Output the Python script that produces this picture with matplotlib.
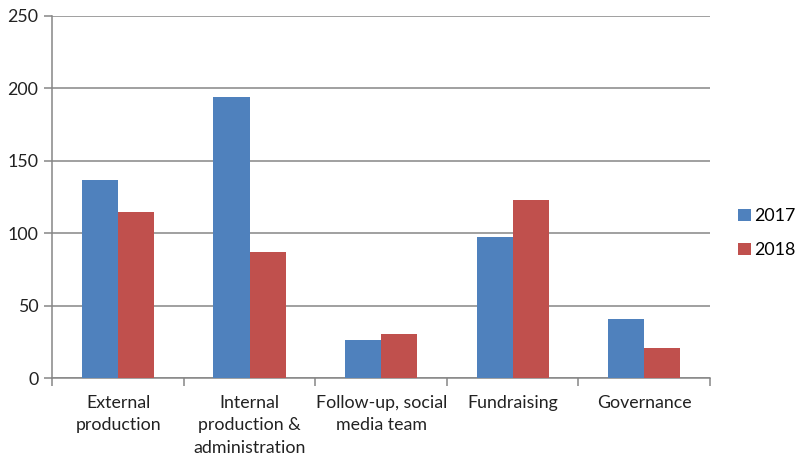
import numpy as np
import matplotlib
matplotlib.use("Agg")
import matplotlib.pyplot as plt

plt.rcParams['font.family'] = ['Lato', 'DejaVu Sans']

# Data
categories = ['External\nproduction', 'Internal\nproduction &\nadministration',
              'Follow-up, social\nmedia team', 'Fundraising', 'Governance']
values_2017 = [137, 194, 26.5, 97.5, 40.7]
values_2018 = [115, 87, 30.7, 123, 21]
series_labels = ['2017', '2018']
yticks = [0, 50, 100, 150, 200, 250]

blue = '#4F81BD'
red = '#C0504D'
grey = '#868686'

fig = plt.figure(figsize=(7.96, 4.59), dpi=100)
ax = fig.add_axes([0.0657, 0.1758, 0.8263, 0.79])

x = np.arange(len(categories))
w = 0.275
ax.bar(x - w / 2, values_2017, width=w, color=blue, label=series_labels[0], zorder=3)
ax.bar(x + w / 2, values_2018, width=w, color=red, label=series_labels[1], zorder=3)

ax.set_xlim(-0.5, len(categories) - 0.5)
ax.set_ylim(0, 250)
ax.set_yticks(yticks)
ax.yaxis.grid(True, color=grey, linewidth=1.1, zorder=0)

# category labels at centres, tick marks at boundaries
ax.set_xticks(x)
ax.set_xticklabels(categories, fontsize=12.8, color='#222222', linespacing=1.5)
ax.set_xticks(np.arange(-0.5, len(categories)), minor=True)
ax.tick_params(axis='x', which='major', length=0, pad=12)
ax.tick_params(axis='x', which='minor', length=6, color=grey, width=1.1, direction='out')
ax.tick_params(axis='y', length=6, color=grey, width=1.1, labelsize=12.8, labelcolor='#222222', pad=4)

for side in ['top', 'right']:
    ax.spines[side].set_visible(False)
for side in ['left', 'bottom']:
    ax.spines[side].set_color(grey)
    ax.spines[side].set_linewidth(1.1)

ax.legend(loc='center left', bbox_to_anchor=(0.927, 0.492), bbox_transform=fig.transFigure,
          frameon=False, fontsize=12.8, handlelength=0.72, handleheight=0.72,
          handletextpad=0.2, labelspacing=1.0, borderaxespad=0, borderpad=0)

fig.savefig('out.png', dpi=100)
